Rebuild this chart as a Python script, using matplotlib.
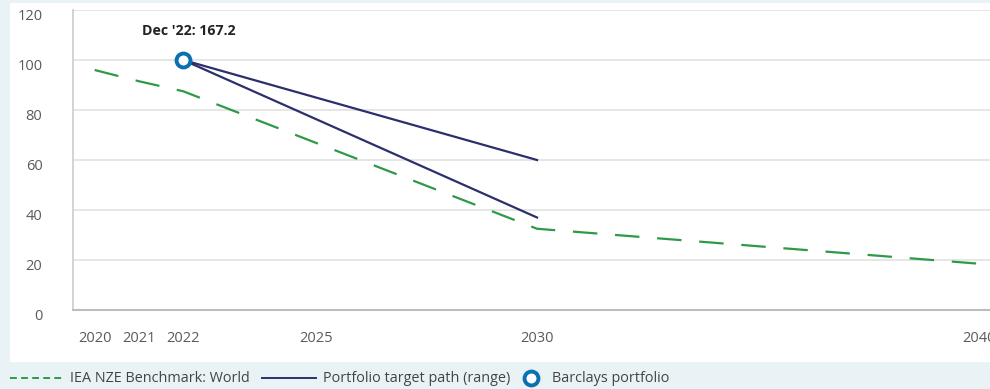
import matplotlib.pyplot as plt
import matplotlib.transforms as mtransforms
from matplotlib.lines import Line2D
from matplotlib.patches import Rectangle

plt.rcParams['font.family'] = ['Open Sans', 'DejaVu Sans']

# IEA benchmark path (world)
bench_years = [2020, 2021, 2022, 2030, 2040]
bench_vals = [96, 91.5, 87.5, 32.5, 18.5]

# portfolio target range, from Dec '22 baseline indexed to 100
target_years = [2022, 2030]
target_high = [100, 60]
target_low = [100, 37]

base_year = 2022
base_val = 100
base_label = "Dec '22: 167.2"

xticks = [2020, 2021, 2022, 2025, 2030, 2040]
yticks = [0, 20, 40, 60, 80, 100, 120]

green = '#2e9a47'
navy = '#2c2f6b'
blue = '#0a70b0'
txt = '#5a5a5a'

fig = plt.figure(figsize=(9.9, 3.89), dpi=100, facecolor='#e9f3f5')
# white panel behind the chart
fig.patches.append(Rectangle((10 / 990, 1 - 362 / 389), 980 / 990, 359 / 389,
                             transform=fig.transFigure, facecolor='white',
                             edgecolor='none', zorder=-1))

ax = fig.add_axes([73 / 990, 1 - 310 / 389, 917 / 990, 300 / 389])
ax.set_facecolor('white')

ax.plot(bench_years, bench_vals, color=green, lw=1.6, dashes=(11, 8))
ax.plot(target_years, target_high, color=navy, lw=1.6)
ax.plot(target_years, target_low, color=navy, lw=1.6)
ax.plot([base_year], [base_val], 'o', ms=10, mfc='white', mec=blue, mew=2.8, zorder=5)
ax.annotate(base_label, (base_year, base_val), xytext=(4, 21), textcoords='offset points',
            ha='center', va='center', fontsize=10.2, fontweight='bold', color='#222222')

ax.set_xlim(2019.51, 2040.24)
ax.set_ylim(0, 120)
ax.set_xticks(xticks)
ax.set_yticks(yticks)
ax.tick_params(length=0, labelsize=10.5, labelcolor=txt)
ax.tick_params(axis='x', pad=15)
ax.tick_params(axis='y', pad=22)
ax.grid(axis='y', color='#e4e4e4', lw=1.3)
ax.set_axisbelow(True)

for s in ['top', 'right']:
    ax.spines[s].set_visible(False)
ax.spines['left'].set_color('#d0d0d0')
ax.spines['bottom'].set_color('#bdbdbd')
ax.spines['left'].set_linewidth(1.3)
ax.spines['bottom'].set_linewidth(1.5)

# y labels sit a little below their gridlines
shift = mtransforms.ScaledTranslation(0, -5 / 100, fig.dpi_scale_trans)
for lab in ax.get_yticklabels():
    lab.set_transform(lab.get_transform() + shift)

# legend row along the bottom
ly = 1 - 378 / 389
fig.add_artist(Line2D([10 / 990, 62 / 990], [ly, ly], transform=fig.transFigure,
                      color=green, lw=1.4, dashes=(3.5, 2.2)))
fig.text(70 / 990, ly, 'IEA NZE Benchmark: World', fontsize=10.4, color='#444444', va='center')
fig.add_artist(Line2D([262 / 990, 316 / 990], [ly, ly], transform=fig.transFigure,
                      color=navy, lw=1.4))
fig.text(323 / 990, ly, 'Portfolio target path (range)', fontsize=10.4, color='#444444', va='center')
fig.add_artist(Line2D([531 / 990], [ly], transform=fig.transFigure, marker='o', ms=10,
                      mfc='white', mec=blue, mew=2.8, ls='none'))
fig.text(552 / 990, ly, 'Barclays portfolio', fontsize=10.4, color='#444444', va='center')

fig.savefig('out.png', dpi=100, facecolor=fig.get_facecolor())
